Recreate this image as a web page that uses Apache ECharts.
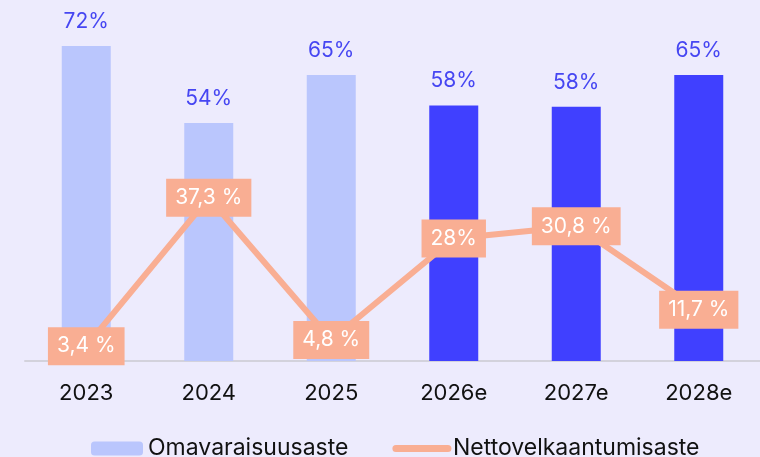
<!DOCTYPE html>
<html>
<head>
<meta charset="utf-8">
<script src="https://cdn.jsdelivr.net/npm/echarts@6/dist/echarts.min.js"></script>
<style>
	html, body { margin: 0; padding: 0; background: #edebfd; }
	#chart { width: 760px; height: 457px; }
</style>
</head>
<body>
<div id="chart"></div>
<script>
// categories
var years = ['2023', '2024', '2025', '2026e', '2027e', '2028e'];
// equity ratio, %
var equityRatio = [72, 54.4, 65.4, 58.4, 58.1, 65.4];
// net gearing, %
var netGearing = [3.4, 37.3, 4.8, 28, 30.8, 11.7];
var netGearingLabels = ['3,4 %', '37,3 %', '4,8 %', '28%', '30,8 %', '11,7 %'];
// first three are actuals, rest estimates
var actualCount = 3;

var font = 'Inter, "Noto Sans", sans-serif';

var myChart = echarts.init(document.getElementById('chart'));

var option = {
	backgroundColor: '#edebfd',
	animation: false,
	textStyle: { fontFamily: font },
	grid: {
		left: 25,
		right: 0,
		top: 11,
		bottom: 96
	},
	legend: {
		bottom: -8,
		left: 86,
		itemWidth: 52,
		itemHeight: 14,
		itemGap: 44,
		textStyle: { fontSize: 23, color: '#111', fontFamily: font },
		data: [
			'Omavaraisuusaste',
			{
				name: 'Nettovelkaantumisaste',
				itemStyle: { opacity: 0 },
				lineStyle: { width: 7, cap: 'round' }
			}
		]
	},
	xAxis: {
		type: 'category',
		data: years,
		axisLine: { lineStyle: { color: '#d3d2dc', width: 2 } },
		axisTick: { show: false },
		axisLabel: { fontSize: 22, color: '#111', margin: 21, fontFamily: font }
	},
	yAxis: {
		type: 'value',
		min: 0,
		max: 80,
		show: false,
		splitLine: { show: false }
	},
	series: [
		{
			name: 'Omavaraisuusaste',
			type: 'bar',
			barWidth: 49,
			itemStyle: { color: '#bac6fd' },
			data: equityRatio.map(function(v, i) {
				return {
					value: v,
					itemStyle: { color: i < actualCount ? '#bac6fd' : '#4040ff' }
				};
			}),
			label: {
				show: true,
				position: 'top',
				distance: 14,
				fontSize: 21,
				color: '#4646f2',
				fontFamily: font,
				formatter: function(p) { return Math.round(p.value) + '%'; }
			}
		},
		{
			name: 'Nettovelkaantumisaste',
			type: 'line',
			data: netGearing,
			symbol: 'circle',
			symbolSize: 0,
			z: 5,
			lineStyle: { color: '#f9ae93', width: 6, cap: 'round' },
			itemStyle: { color: '#f9ae93' },
			label: {
				show: true,
				position: 'inside',
				fontSize: 21,
				color: '#fff',
				fontFamily: font,
				backgroundColor: '#f9ae93',
				padding: [9, 9, 8, 9],
				formatter: function(p) { return netGearingLabels[p.dataIndex]; }
			}
		}
	]
};

myChart.setOption(option);
</script>
</body>
</html>
